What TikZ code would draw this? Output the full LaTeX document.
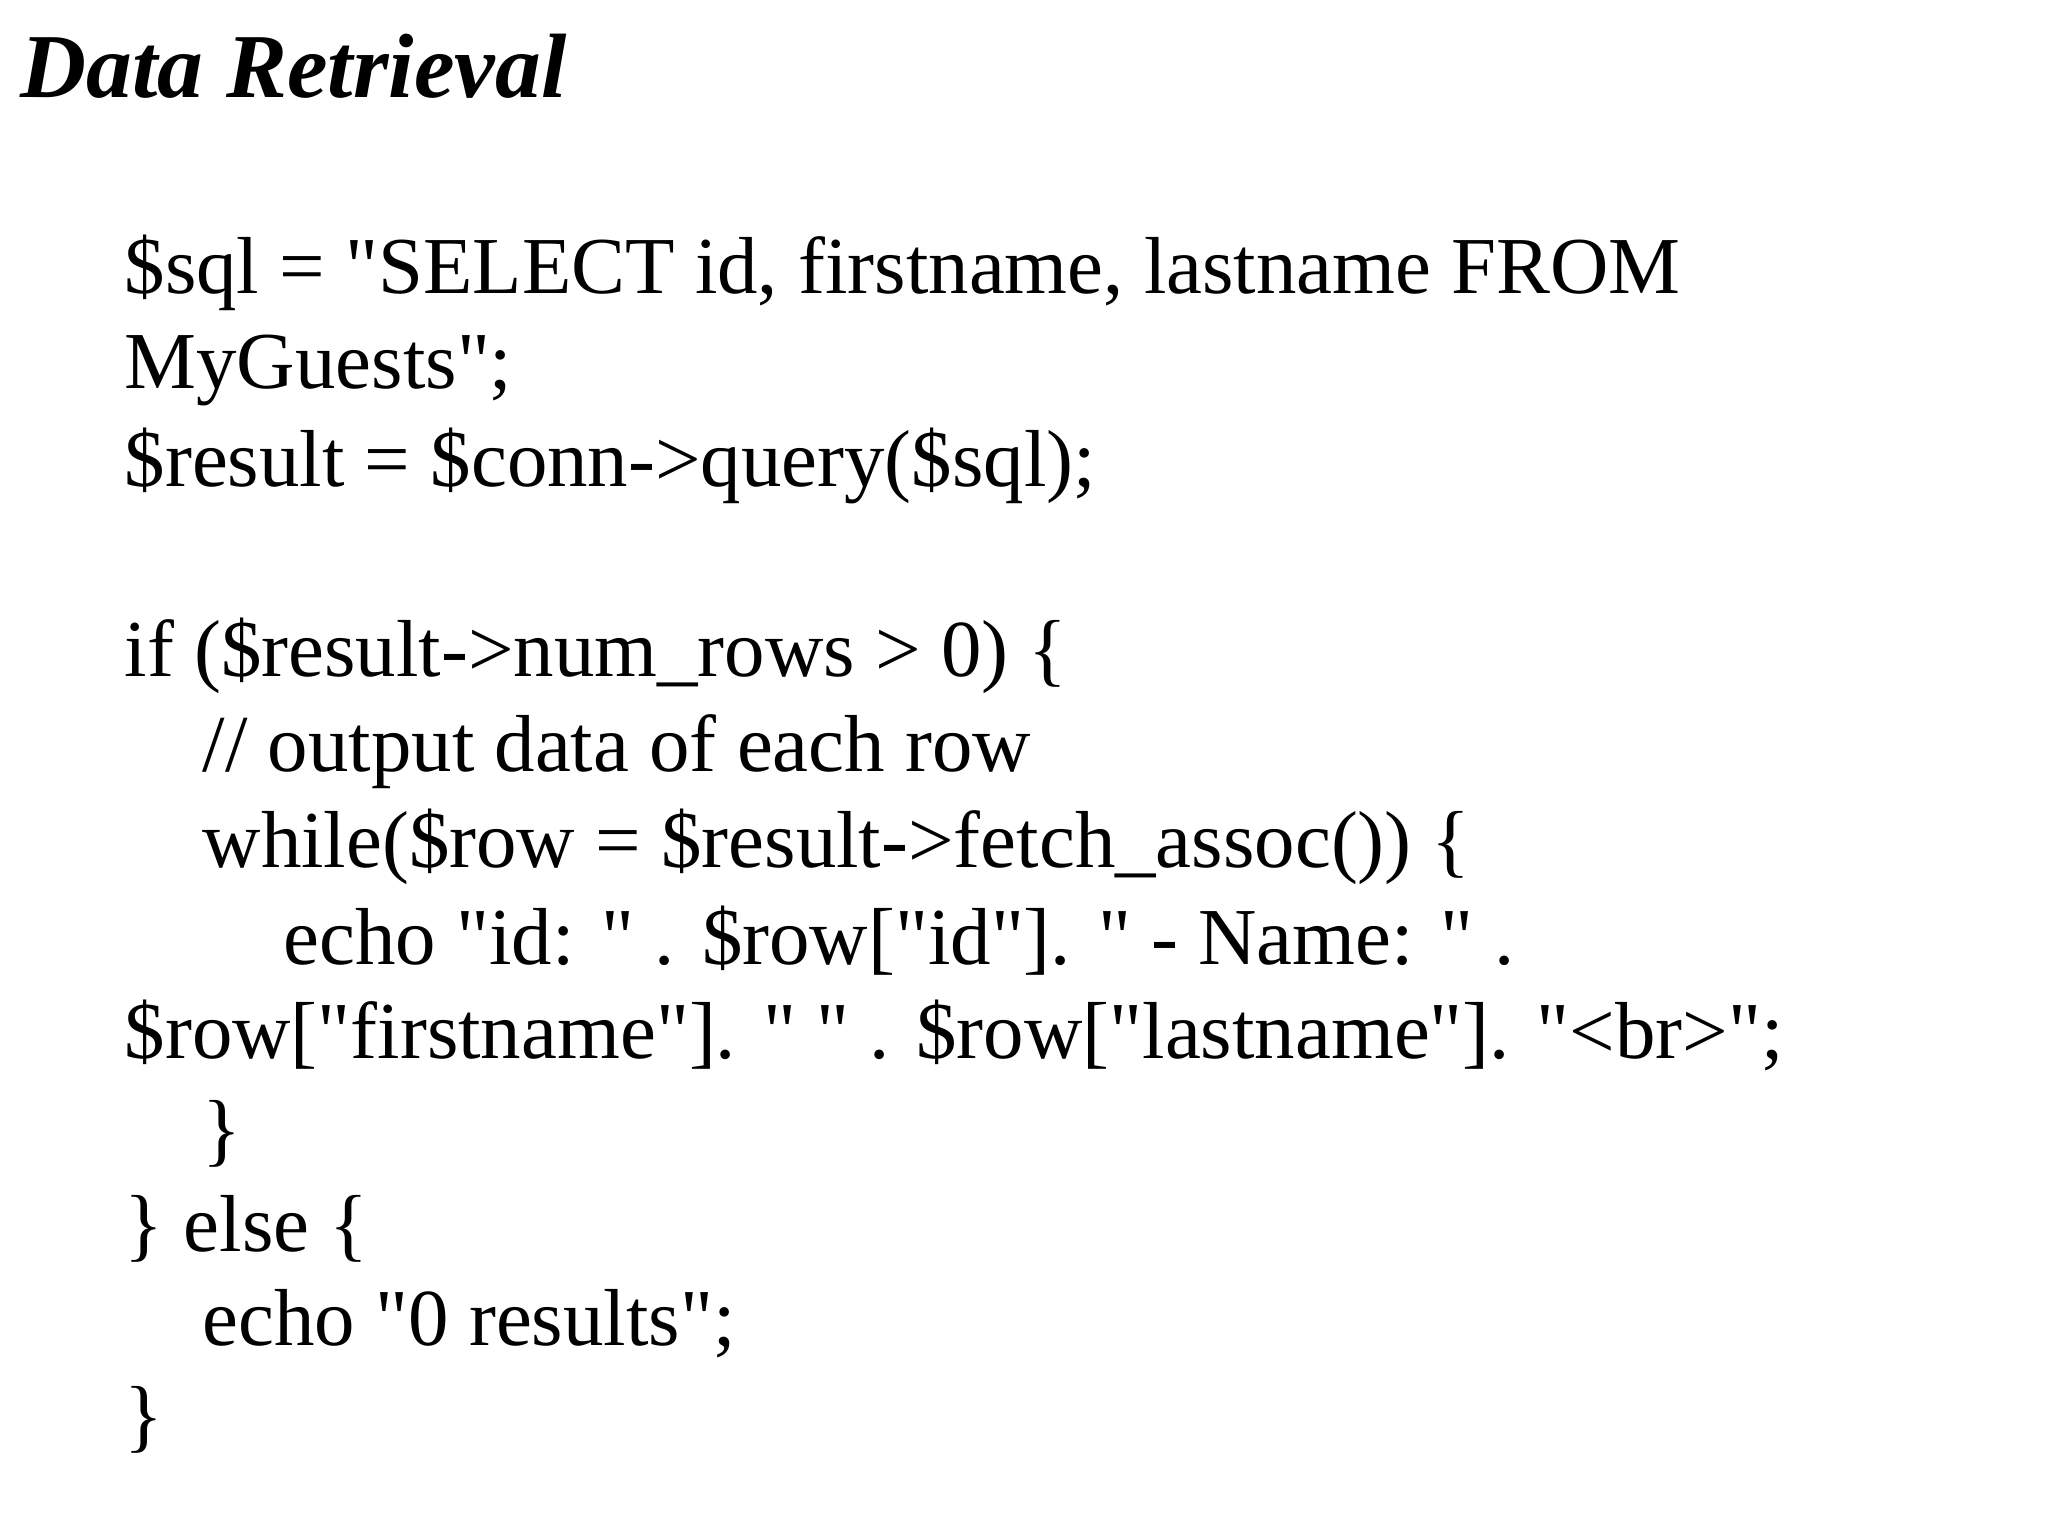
\documentclass[tikz,border=0pt]{standalone}
\usepackage{fontspec}
\setmainfont{Liberation Serif}[Ligatures=TeXOff]
\begin{document}
\begin{tikzpicture}[code/.style = {anchor=base west,inner sep=0pt,font=\fontsize{23}{28}\selectfont}]
                    \useasboundingbox (0,0) rectangle (20.48,-15.36);
                    \node [anchor=base west,inner sep=0pt,font=\fontsize{26}{30}\selectfont\bfseries\itshape] (title) at (0.2,-0.98) {Data Retrieval};

                    \node [code] (l1) at (1.24,-2.94) {\$sql = "SELECT id, firstname, lastname FROM};
                    \node [code] (l2) at (1.24,-3.89) {MyGuests";};
                    \node [code] (l3) at (1.24,-4.86) {\$result = \$conn->query(\$sql);};

                    \node [code] (l4) at (1.24,-6.77) {if (\$result->num\_rows > 0) \{};
                    \node [code] (l5) at (2.02,-7.71) {// output data of each row};
                    \node [code] (l6) at (2.02,-8.67) {while(\$row = \$result->fetch\_assoc()) \{};
                    \node [code] (l7) at (2.83,-9.64) {echo "id: " . \$row["id"]. " - Name: " .};
                    \node [code] (l8) at (1.24,-10.58) {\$row["firstname"]. " " . \$row["lastname"]. "<br>";};
                    \node [code] (l9) at (2.02,-11.56) {\}};
                    \node [code] (l10) at (1.24,-12.51) {\} else \{};
                    \node [code] (l11) at (2.02,-13.45) {echo "0 results";};
                    \node [code] (l12) at (1.24,-14.42) {\}};
                \end{tikzpicture}
\end{document}
